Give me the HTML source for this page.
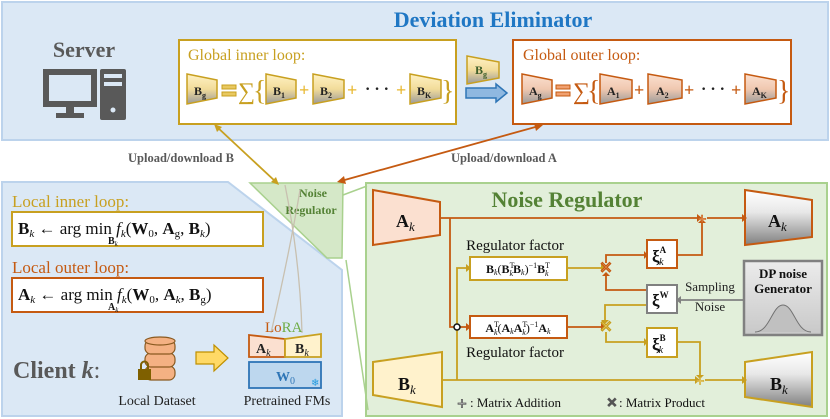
<!DOCTYPE html>
<html><head><meta charset="utf-8"><style>body{margin:0;background:#fff}svg{display:block}</style></head><body>
<svg width="830" height="419" viewBox="0 0 830 419" xmlns="http://www.w3.org/2000/svg" font-family="'Liberation Serif', serif">
<defs>
<linearGradient id="gy" x1="0" y1="0" x2="0" y2="1"><stop offset="0" stop-color="#fff2c4"/><stop offset="0.5" stop-color="#f2dc9a"/><stop offset="1" stop-color="#9a9a9a"/></linearGradient>
<linearGradient id="go" x1="0" y1="0" x2="0" y2="1"><stop offset="0" stop-color="#fbe0d0"/><stop offset="0.5" stop-color="#f0c8b0"/><stop offset="1" stop-color="#9a9a9a"/></linearGradient>
<linearGradient id="gw" x1="0" y1="0" x2="0" y2="1"><stop offset="0" stop-color="#ffffff"/><stop offset="0.4" stop-color="#e8e8e8"/><stop offset="1" stop-color="#808080"/></linearGradient>
<linearGradient id="dp" x1="0" y1="0" x2="0" y2="1"><stop offset="0" stop-color="#ececec"/><stop offset="1" stop-color="#c8c8c8"/></linearGradient>
</defs>
<rect x="2" y="2" width="826" height="138" fill="#dbe8f5" stroke="#bcd3ec" stroke-width="2"/>
<text x="493" y="27" font-size="22" font-weight="bold" fill="#1f77c4" text-anchor="middle">Deviation Eliminator</text>
<text x="84" y="57" font-size="22" font-weight="bold" fill="#595959" text-anchor="middle">Server</text>
<rect x="46" y="72" width="48" height="32" fill="none" stroke="#595959" stroke-width="6"/>
<rect x="66" y="106" width="8" height="8" fill="#595959"/>
<rect x="56" y="113" width="28" height="5" fill="#595959"/>
<rect x="100" y="69" width="26" height="51" rx="2" fill="#595959"/>
<rect x="104" y="74" width="18" height="4" fill="#dbe8f5"/>
<rect x="104" y="82" width="18" height="4" fill="#dbe8f5"/>
<circle cx="113" cy="110" r="2.5" fill="#dbe8f5"/>
<rect x="179" y="40" width="277" height="84" fill="#fff" stroke="#c8a020" stroke-width="2"/>
<text x="188" y="60" font-size="16" fill="#c8a020">Global inner loop:</text>
<g stroke="#c8a020" stroke-width="1.5" fill="url(#gy)">
<polygon points="187,74 217,80 217,98 187,104"/>
<polygon points="266,74 296,80 296,98 266,104"/>
<polygon points="313,74 344,80 344,98 313,104"/>
<polygon points="410,74 441,80 441,98 410,104"/>
<polygon points="467,56 499,62 499,78 467,84"/>
</g>
<g font-weight="bold" font-size="12" fill="#222">
<text x="194" y="95">B<tspan font-size="8" dy="3">g</tspan></text>
<text x="273" y="95">B<tspan font-size="8" dy="3">1</tspan></text>
<text x="320" y="95">B<tspan font-size="8" dy="3">2</tspan></text>
<text x="417" y="95">B<tspan font-size="8" dy="3">K</tspan></text>
<text x="475" y="74" fill="#3d5e2a">B<tspan font-size="8" dy="3">g</tspan></text>
</g>
<g fill="#e8c860" stroke="#c8a020" stroke-width="1"><rect x="222" y="85" width="14" height="4"/><rect x="222" y="92" width="14" height="4"/></g>
<text x="238" y="99" font-size="24" fill="#c8a020">∑</text>
<text x="253" y="100" font-size="28" fill="#c8a020">{</text>
<text x="441" y="100" font-size="28" fill="#c8a020">}</text>
<g font-size="18" font-weight="bold" fill="#e8b830"><text x="299" y="96">+</text><text x="347" y="96">+</text><text x="396" y="96">+</text></g>
<text x="365" y="94" font-size="16" fill="#222" font-weight="bold">· · ·</text>
<polygon points="466,88 496,88 496,84 507,93 496,102 496,98 466,98" fill="#8fb8e0" stroke="#2e75b6" stroke-width="1.5"/>
<rect x="513" y="40" width="278" height="84" fill="#fff" stroke="#c55a11" stroke-width="2"/>
<text x="523" y="60" font-size="16" fill="#c55a11">Global outer loop:</text>
<g stroke="#c55a11" stroke-width="1.5" fill="url(#go)">
<polygon points="522,74 552,80 552,98 522,104"/>
<polygon points="600,74 632,80 632,98 600,104"/>
<polygon points="648,74 682,80 682,98 648,104"/>
<polygon points="745,74 776,80 776,98 745,104"/>
</g>
<g font-weight="bold" font-size="12" fill="#222">
<text x="529" y="95">A<tspan font-size="8" dy="3">g</tspan></text>
<text x="607" y="95">A<tspan font-size="8" dy="3">1</tspan></text>
<text x="656" y="95">A<tspan font-size="8" dy="3">2</tspan></text>
<text x="752" y="95">A<tspan font-size="8" dy="3">K</tspan></text>
</g>
<g fill="#f0a070" stroke="#c55a11" stroke-width="1"><rect x="556" y="85" width="14" height="4"/><rect x="556" y="92" width="14" height="4"/></g>
<text x="573" y="99" font-size="24" fill="#c55a11">∑</text>
<text x="587" y="100" font-size="28" fill="#c55a11">{</text>
<text x="777" y="100" font-size="28" fill="#c55a11">}</text>
<g font-size="18" font-weight="bold" fill="#c55a11"><text x="634" y="96">+</text><text x="684" y="96">+</text><text x="731" y="96">+</text></g>
<text x="701" y="94" font-size="16" fill="#222" font-weight="bold">· · ·</text>
<text x="181" y="162" font-size="12.5" font-weight="bold" fill="#595959" text-anchor="middle">Upload/download B</text>
<text x="504" y="162" font-size="12.5" font-weight="bold" fill="#595959" text-anchor="middle">Upload/download A</text>
<polygon points="2,182 228,182 342,270 342,416 2,416" fill="#dbe8f5" stroke="#bcd3ec" stroke-width="2"/>
<rect x="366" y="183" width="461" height="233" fill="#e2efda" stroke="#a9d18e" stroke-width="2"/>
<line x1="343" y1="195" x2="367" y2="186" stroke="#a9d18e" stroke-width="1.5"/>
<line x1="346" y1="260" x2="368" y2="410" stroke="#a9d18e" stroke-width="1.5"/>
<polygon points="250,183 343,183 342,258 327,258" fill="#d5e8c8" stroke="#a9d18e" stroke-width="1.5"/>
<text x="313" y="197" font-size="12" font-weight="bold" fill="#548235" text-anchor="middle">Noise</text>
<text x="311" y="214" font-size="12" font-weight="bold" fill="#548235" text-anchor="middle">Regulator</text>
<line x1="276" y1="182" x2="217" y2="127" stroke="#c8a020" stroke-width="1.8"/>
<polygon points="214,124 222,127 217,132" fill="#c8a020"/>
<polygon points="279,185 271,182 276,177" fill="#c8a020"/>
<line x1="341" y1="181" x2="539" y2="126" stroke="#c55a11" stroke-width="1.8"/>
<polygon points="543,125 536,131 534,123" fill="#c55a11"/>
<polygon points="337,182 344,176 346,184" fill="#c55a11"/>
<path d="M271,333 Q290,250 300,190" stroke="#c8c0b0" stroke-width="1.3" fill="none"/>
<path d="M302,333 Q300,260 285,185" stroke="#c8c0b0" stroke-width="1.3" fill="none"/>
<text x="12" y="207" font-size="17" fill="#c8a020">Local inner loop:</text>
<rect x="12" y="212" width="251" height="34" fill="#fff" stroke="#c8a020" stroke-width="2"/>
<text x="18" y="234" font-size="17" fill="#111"><tspan font-weight="bold">B</tspan><tspan font-size="11" dy="3" font-style="italic">k</tspan><tspan dy="-3"> ← arg min </tspan><tspan font-style="italic">f</tspan><tspan font-size="11" dy="3" font-style="italic">k</tspan><tspan dy="-3">(</tspan><tspan font-weight="bold">W</tspan><tspan font-size="11" dy="3">0</tspan><tspan dy="-3">, </tspan><tspan font-weight="bold">A</tspan><tspan font-size="11" dy="3">g</tspan><tspan dy="-3">, </tspan><tspan font-weight="bold">B</tspan><tspan font-size="11" dy="3" font-style="italic">k</tspan><tspan dy="-3">)</tspan></text>
<text x="108" y="244" font-size="10" font-weight="bold" fill="#111">B<tspan font-size="7" dy="2" font-style="italic" font-weight="normal">k</tspan></text>
<text x="12" y="273" font-size="17" fill="#c55a11">Local outer loop:</text>
<rect x="12" y="278" width="251" height="34" fill="#fff" stroke="#c55a11" stroke-width="2"/>
<text x="18" y="300" font-size="17" fill="#111"><tspan font-weight="bold">A</tspan><tspan font-size="11" dy="3" font-style="italic">k</tspan><tspan dy="-3"> ← arg min </tspan><tspan font-style="italic">f</tspan><tspan font-size="11" dy="3" font-style="italic">k</tspan><tspan dy="-3">(</tspan><tspan font-weight="bold">W</tspan><tspan font-size="11" dy="3">0</tspan><tspan dy="-3">, </tspan><tspan font-weight="bold">A</tspan><tspan font-size="11" dy="3" font-style="italic">k</tspan><tspan dy="-3">, </tspan><tspan font-weight="bold">B</tspan><tspan font-size="11" dy="3">g</tspan><tspan dy="-3">)</tspan></text>
<text x="108" y="310" font-size="10" font-weight="bold" fill="#111">A<tspan font-size="7" dy="2" font-style="italic" font-weight="normal">k</tspan></text>
<text x="13" y="378" font-size="24" font-weight="bold" fill="#595959">Client <tspan font-style="italic">k</tspan><tspan font-weight="normal">:</tspan></text>
<g stroke="#8a5a20" stroke-width="1.2" fill="#f4b183">
<rect x="145" y="366" width="30" height="14" rx="6"/>
<rect x="145" y="353" width="30" height="14" rx="6"/>
<rect x="145" y="340" width="30" height="14" rx="6"/>
<ellipse cx="160" cy="341" rx="15" ry="4"/>
</g>
<rect x="138" y="369" width="13" height="11" fill="#7f6000"/>
<path d="M141,369 v-4 a3.5,3.5 0 0 1 7,0 v4" stroke="#7f6000" stroke-width="2" fill="none"/>
<polygon points="196,352 214,352 214,345 228,358 214,371 214,364 196,364" fill="#ffd966" stroke="#bf9000" stroke-width="1.2"/>
<text x="265" y="332" font-size="15" fill="#c55a11">Lo<tspan fill="#70ad47">RA</tspan></text>
<polygon points="249,335 285,339 285,357 249,357" fill="#fbe0d0" stroke="#c55a11" stroke-width="1.8"/>
<polygon points="285,339 321,334 321,357 285,357" fill="#fff2cc" stroke="#c8a020" stroke-width="1.8"/>
<text x="256" y="353" font-size="14" font-weight="bold" fill="#222">A<tspan font-size="10" font-style="italic" font-weight="normal" dy="3">k</tspan></text>
<text x="295" y="353" font-size="14" font-weight="bold" fill="#222">B<tspan font-size="10" font-style="italic" font-weight="normal" dy="3">k</tspan></text>
<rect x="249" y="362" width="72" height="26" fill="#bdd7ee" stroke="#2e75b6" stroke-width="1.8"/>
<text x="276" y="381" font-size="14" font-weight="bold" fill="#2e75b6">W<tspan font-size="10" font-weight="normal" dy="3">0</tspan></text>
<text x="311" y="386" font-size="10" fill="#1f9ae0">❄</text>
<text x="157" y="405" font-size="14" fill="#222" text-anchor="middle">Local Dataset</text>
<text x="287" y="405" font-size="14" fill="#222" text-anchor="middle">Pretrained FMs</text>
<text x="567" y="207" font-size="22" font-weight="bold" fill="#548235" text-anchor="middle">Noise Regulator</text>
<polygon points="373,190 440,202 440,235 373,245" fill="#fbe0d0" stroke="#c55a11" stroke-width="2"/>
<polygon points="373,362 442,352 442,407 373,395" fill="#fff2cc" stroke="#c8a020" stroke-width="2"/>
<polygon points="745,190 812,200 812,237 745,245" fill="url(#gw)" stroke="#c55a11" stroke-width="2"/>
<polygon points="745,362 812,352 812,407 745,397" fill="url(#gw)" stroke="#c8a020" stroke-width="2"/>
<g font-size="18" font-weight="bold" fill="#111">
<text x="396" y="227">A<tspan font-size="13" font-style="italic" font-weight="normal" dy="4">k</tspan></text>
<text x="398" y="390">B<tspan font-size="13" font-style="italic" font-weight="normal" dy="4">k</tspan></text>
<text x="768" y="227">A<tspan font-size="13" font-style="italic" font-weight="normal" dy="4">k</tspan></text>
<text x="770" y="390">B<tspan font-size="13" font-style="italic" font-weight="normal" dy="4">k</tspan></text>
</g>
<g fill="none" stroke-width="1.8">
<path d="M440,218 H697" stroke="#c55a11"/>
<path d="M707,218 H742" stroke="#c55a11"/>
<path d="M450,218 V327 H466" stroke="#c55a11"/>
<path d="M442,380 H695" stroke="#c8a020"/>
<path d="M705,380 H742" stroke="#c8a020"/>
<path d="M457,380 V268 H466" stroke="#c8a020"/>
<path d="M567,268 H601" stroke="#c8a020"/>
<path d="M567,327 H601" stroke="#c55a11"/>
<path d="M606,263 V255 H644" stroke="#c55a11"/>
<path d="M677,255 H702 V222" stroke="#c55a11"/>
<path d="M647,290 H606 V275" stroke="#c55a11"/>
<path d="M647,305 H605 V320" stroke="#c8a020"/>
<path d="M606,332 V342 H644" stroke="#c8a020"/>
<path d="M677,342 H700 V375" stroke="#c8a020"/>
<path d="M743,300 H681" stroke="#808080"/>
</g>
<g>
<polygon points="697,214 697,222 702,218" fill="#c55a11"/>
<polygon points="742,214 742,222 747,218" fill="#c55a11"/>
<polygon points="466,323 466,331 471,327" fill="#c55a11"/>
<polygon points="466,264 466,272 471,268" fill="#c8a020"/>
<polygon points="601,264 601,272 605,268" fill="#c8a020"/>
<polygon points="601,323 601,331 605,327" fill="#c55a11"/>
<polygon points="644,251 644,259 648,255" fill="#c55a11"/>
<polygon points="698,223 706,223 702,219" fill="#c55a11"/>
<polygon points="602,276 610,276 606,272" fill="#c55a11"/>
<polygon points="601,320 609,320 605,324" fill="#c8a020"/>
<polygon points="644,338 644,346 648,342" fill="#c8a020"/>
<polygon points="696,375 704,375 700,379" fill="#c8a020"/>
<polygon points="695,376 695,384 700,380" fill="#c8a020"/>
<polygon points="742,376 742,384 747,380" fill="#c8a020"/>
<polygon points="681,296 681,304 676,300" fill="#808080"/>
</g>
<circle cx="457" cy="327" r="3" fill="#fff" stroke="#111" stroke-width="1.5"/>
<g font-weight="bold" font-size="16" text-anchor="middle">
<text x="702" y="224" fill="#f4b183" stroke="#c55a11" stroke-width="0.6">+</text>
<text x="700" y="386" fill="#ffe699" stroke="#c8a020" stroke-width="0.6">+</text>
<text x="606" y="273" fill="#f4b183" stroke="#c55a11" stroke-width="0.6">✕</text>
<text x="606" y="332" fill="#ffe699" stroke="#c8a020" stroke-width="0.6">✕</text>
</g>
<text x="515" y="250" font-size="15" fill="#111" text-anchor="middle">Regulator factor</text>
<rect x="470" y="257" width="97" height="23" fill="#fff" stroke="#c8a020" stroke-width="2"/>
<text x="518" y="273" font-size="12" fill="#111" text-anchor="middle"><tspan font-weight="bold">B</tspan><tspan font-size="8" font-style="italic" dy="2">k</tspan><tspan dy="-2">(</tspan><tspan font-weight="bold">B</tspan><tspan font-size="8" dy="-5">T</tspan><tspan font-size="8" font-style="italic" dx="-5" dy="8">k</tspan><tspan font-weight="bold" dy="-3">B</tspan><tspan font-size="8" font-style="italic" dy="2">k</tspan><tspan dy="-2">)</tspan><tspan font-size="8" dy="-5">−1</tspan><tspan font-weight="bold" dy="5">B</tspan><tspan font-size="8" dy="-5">T</tspan><tspan font-size="8" font-style="italic" dx="-5" dy="8">k</tspan></text>
<rect x="470" y="316" width="97" height="22" fill="#fff" stroke="#c55a11" stroke-width="2"/>
<text x="518" y="332" font-size="12" fill="#111" text-anchor="middle"><tspan font-weight="bold">A</tspan><tspan font-size="8" dy="-5">T</tspan><tspan font-size="8" font-style="italic" dx="-5" dy="8">k</tspan><tspan dy="-3">(</tspan><tspan font-weight="bold">A</tspan><tspan font-size="8" font-style="italic" dy="2">k</tspan><tspan font-weight="bold" dy="-2">A</tspan><tspan font-size="8" dy="-5">T</tspan><tspan font-size="8" font-style="italic" dx="-5" dy="8">k</tspan><tspan dy="-3">)</tspan><tspan font-size="8" dy="-5">−1</tspan><tspan font-weight="bold" dy="5">A</tspan><tspan font-size="8" font-style="italic" dy="2">k</tspan></text>
<text x="515" y="357" font-size="15" fill="#111" text-anchor="middle">Regulator factor</text>
<rect x="647" y="240" width="30" height="28" fill="#fff" stroke="#c55a11" stroke-width="2"/>
<text x="652" y="262" font-size="17" font-weight="bold" fill="#111">ξ<tspan font-size="9" dy="-9">A</tspan><tspan font-size="10" font-style="italic" font-weight="normal" dx="-7" dy="12">k</tspan></text>
<rect x="647" y="285" width="30" height="28" fill="#fff" stroke="#808080" stroke-width="2"/>
<text x="652" y="306" font-size="17" font-weight="bold" fill="#111">ξ<tspan font-size="9" dy="-8">W</tspan></text>
<rect x="647" y="328" width="30" height="29" fill="#fff" stroke="#c8a020" stroke-width="2"/>
<text x="652" y="350" font-size="17" font-weight="bold" fill="#111">ξ<tspan font-size="9" dy="-9">B</tspan><tspan font-size="10" font-style="italic" font-weight="normal" dx="-7" dy="12">k</tspan></text>
<text x="710" y="291" font-size="13" fill="#222" text-anchor="middle">Sampling</text>
<text x="710" y="311" font-size="13" fill="#222" text-anchor="middle">Noise</text>
<rect x="744" y="261" width="78" height="74" fill="url(#dp)" stroke="#808080" stroke-width="2.5"/>
<text x="783" y="278" font-size="13" font-weight="bold" fill="#111" text-anchor="middle">DP noise</text>
<text x="783" y="293" font-size="13" font-weight="bold" fill="#111" text-anchor="middle">Generator</text>
<path d="M755,332 C770,332 772,305 783,305 C794,305 796,332 811,332" fill="#c0c0c0" stroke="#707070" stroke-width="1"/>
<text x="462" y="409" font-size="17" font-weight="bold" fill="#fff" stroke="#555" stroke-width="0.8" text-anchor="middle">+</text>
<text x="470" y="407" font-size="13" fill="#111">: Matrix Addition</text>
<text x="612" y="407" font-size="13" font-weight="bold" fill="#fff" stroke="#555" stroke-width="0.8" text-anchor="middle">✕</text>
<text x="619" y="407" font-size="13" fill="#111">: Matrix Product</text>
</svg>
</body></html>
